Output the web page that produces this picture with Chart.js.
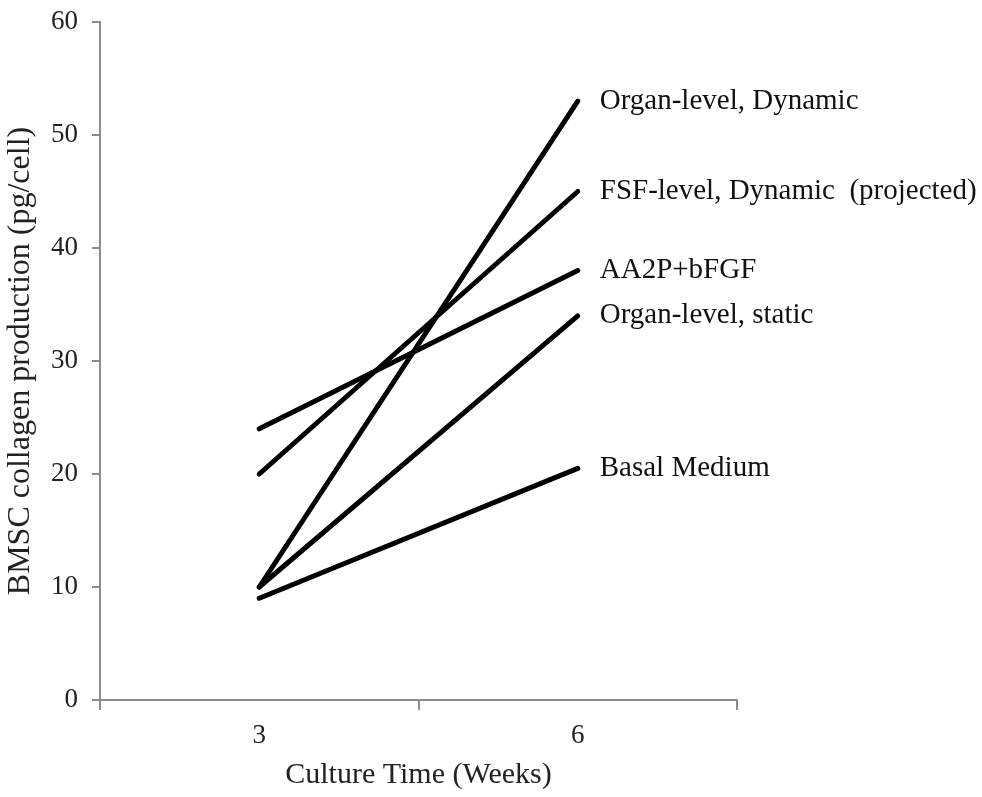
<!DOCTYPE html>
<html>
<head>
<meta charset="utf-8">
<script src="https://cdn.jsdelivr.net/npm/chart.js@4.4.1/dist/chart.umd.min.js"></script>
<style>
  html, body { margin: 0; padding: 0; background: #fff; }
  #wrap { width: 982px; height: 797px; }
</style>
</head>
<body>
<div id="wrap"><canvas id="myChart" width="982" height="797"></canvas></div>
<script>
// culture time points (weeks)
const weeks = ['3', '6'];

// collagen production per cell (pg/cell) at 3 and 6 weeks
const organDynamic = [10, 53];
const fsfDynamic = [20, 45];
const aa2pBfgf = [24, 38];
const organStatic = [10, 34];
const basalMedium = [9, 20.5];

const seriesNames = [
    'Organ-level, Dynamic',
    'FSF-level, Dynamic  (projected)',
    'AA2P+bFGF',
    'Organ-level, static',
    'Basal Medium'
];
const seriesValues = [organDynamic, fsfDynamic, aa2pBfgf, organStatic, basalMedium];

const FONT = "'Liberation Serif', 'Times New Roman', serif";
const AXIS_GREY = '#8c8c8c';

// writes each series name just right of its last point
const endLabels = {
    id: 'endLabels',
    afterDatasetsDraw(chart) {
        const ctx = chart.ctx;
        ctx.save();
        ctx.font = `29px ${FONT}`;
        ctx.fillStyle = '#111';
        ctx.textAlign = 'left';
        ctx.textBaseline = 'middle';
        chart.data.datasets.forEach((ds, i) => {
            const meta = chart.getDatasetMeta(i);
            const last = meta.data[meta.data.length - 1];
            ctx.fillText(ds.label, last.x + 22, last.y);
        });
        ctx.restore();
    }
};

const datasets = seriesNames.map((name, i) => ({
    label: name,
    data: seriesValues[i],
    borderColor: '#000',
    borderWidth: 5,
    borderCapStyle: 'round',
    pointRadius: 0,
    tension: 0,
    fill: false
}));

new Chart(document.getElementById('myChart').getContext('2d'), {
    type: 'line',
    data: { labels: weeks, datasets: datasets },
    plugins: [endLabels],
    options: {
        responsive: false,
        animation: false,
        layout: { padding: { top: 22, right: 245, left: 0, bottom: 0 } },
        plugins: {
            legend: { display: false },
            tooltip: { enabled: false }
        },
        scales: {
            x: {
                type: 'category',
                offset: true,
                afterFit: (scale) => { scale.height = 97; },
                grid: {
                    offset: true,
                    drawOnChartArea: false,
                    drawTicks: true,
                    tickLength: 10,
                    color: AXIS_GREY,
                    lineWidth: 2
                },
                border: { color: AXIS_GREY, width: 2 },
                ticks: {
                    color: '#222',
                    padding: 10,
                    maxRotation: 0,
                    font: { family: FONT, size: 27 }
                },
                title: {
                    display: true,
                    text: 'Culture Time (Weeks)',
                    color: '#222',
                    padding: { top: 0, bottom: 4 },
                    font: { family: FONT, size: 30 }
                }
            },
            y: {
                min: 0,
                max: 60,
                afterFit: (scale) => {
                    scale.width = 100;
                    // top of the axis sits right on the layout padding
                    scale.paddingTop = 0;
                },
                grid: {
                    drawOnChartArea: false,
                    drawTicks: true,
                    tickLength: 8,
                    color: AXIS_GREY,
                    lineWidth: 2
                },
                border: { color: AXIS_GREY, width: 2 },
                ticks: {
                    stepSize: 10,
                    color: '#222',
                    padding: 14,
                    font: { family: FONT, size: 27 }
                },
                title: {
                    display: true,
                    text: 'BMSC collagen production (pg/cell)',
                    color: '#222',
                    padding: { top: 1, bottom: 0 },
                    font: { family: FONT, size: 32 }
                }
            }
        }
    }
});
</script>
</body>
</html>
